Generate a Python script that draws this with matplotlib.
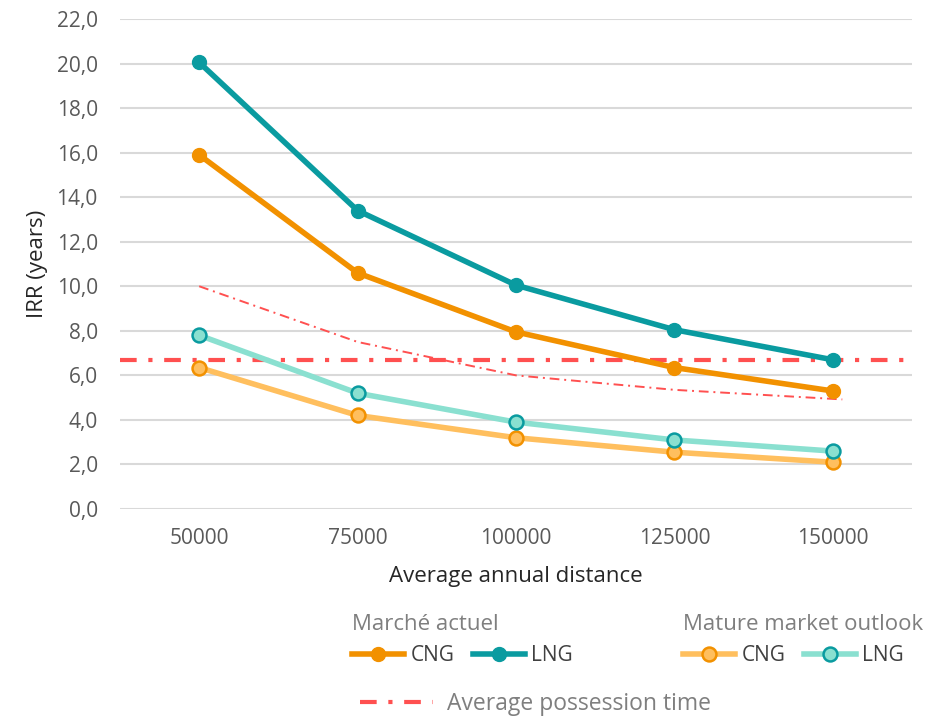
import matplotlib
matplotlib.use("Agg")
import matplotlib.pyplot as plt
from matplotlib.lines import Line2D
from matplotlib.ticker import FuncFormatter

plt.rcParams['font.family'] = ['Open Sans', 'DejaVu Sans']

# données
distances = ["50000", "75000", "100000", "125000", "150000"]
cng_actuel = [15.9, 10.6, 7.95, 6.35, 5.3]
lng_actuel = [20.05, 13.4, 10.05, 8.05, 6.7]
cng_mature = [6.35, 4.2, 3.2, 2.55, 2.1]
lng_mature = [7.8, 5.2, 3.9, 3.1, 2.6]
possession_moy = 6.7
possession_courbe_x = [0, 1, 2, 3, 4.06]
possession_courbe = [10.0, 7.5, 6.0, 5.35, 4.92]

# couleurs
ORANGE = "#F29100"
TEAL = "#0A9BA0"
L_ORANGE = "#FFBF5E"
L_TEAL = "#8AE0D0"
RED = "#FF5050"
GRID = "#D9D9D9"
TXT = "#595959"

fig = plt.figure(figsize=(9.39, 7.17), dpi=100)
ax = fig.add_axes([120/939, 1 - 509/717, 792/939, 490/717])

x = list(range(len(distances)))

ax.axhline(possession_moy, color=RED, lw=3, dashes=(4, 2.8, 1, 2.8),
           dash_capstyle='butt', zorder=2)
ax.plot(possession_courbe_x, possession_courbe, color=RED, lw=1.4,
        dashes=(5, 2.5, 1, 2.5), zorder=2)

l_cng, = ax.plot(x, cng_actuel, color=ORANGE, lw=4, marker='o', ms=10, zorder=3)
l_lng, = ax.plot(x, lng_actuel, color=TEAL, lw=4, marker='o', ms=10, zorder=3)
m_cng, = ax.plot(x, cng_mature, color=L_ORANGE, lw=4, marker='o', ms=10,
                 mfc=L_ORANGE, mec=ORANGE, mew=1.8, zorder=3)
m_lng, = ax.plot(x, lng_mature, color=L_TEAL, lw=4, marker='o', ms=10,
                 mfc=L_TEAL, mec=TEAL, mew=1.8, zorder=3)

ax.set_xlim(-0.5, 4.5)
ax.set_ylim(0, 22)
ax.set_yticks(range(0, 23, 2))
ax.yaxis.set_major_formatter(FuncFormatter(lambda v, p: f"{v:.1f}".replace(".", ",")))
ax.set_xticks(x)
ax.set_xticklabels(distances)
ax.grid(axis='y', color=GRID, lw=1.5)
ax.set_axisbelow(True)
for s in ax.spines.values():
    s.set_visible(False)
ax.tick_params(length=0, labelsize=15, colors=TXT, pad=16)
ax.tick_params(axis='x', pad=14)
ax.set_xlabel("Average annual distance", fontsize=16, color="#262626", labelpad=12)
ax.set_ylabel("IRR (years)", fontsize=16, color="#262626", labelpad=6)

# légendes
leg_kw = dict(frameon=False, loc='upper left', ncol=2, fontsize=15,
              handlelength=2.5, handletextpad=0.3, columnspacing=0.9,
              borderpad=0, borderaxespad=0, alignment='left',
              title_fontsize=16, labelcolor="#404040")
leg1 = fig.legend([l_cng, l_lng], ["CNG", "LNG"], title="Marché actuel",
                  bbox_to_anchor=(352/939, 1 - 614/717), **leg_kw)
leg2 = fig.legend([m_cng, m_lng], ["CNG", "LNG"], title="Mature market outlook",
                  bbox_to_anchor=(683/939, 1 - 614/717), **leg_kw)
for lg in (leg1, leg2):
    lg.get_title().set_color("#7F7F7F")
h_avg = Line2D([], [], color=RED, lw=3, dashes=(4, 2.8, 1, 2.8), dash_capstyle='butt')
leg3 = fig.legend([h_avg], ["Average possession time"], frameon=False,
                  loc='upper left', fontsize=16.5, handlelength=3.2,
                  handletextpad=0.6, borderpad=0, borderaxespad=0,
                  labelcolor="#7F7F7F",
                  bbox_to_anchor=(360/939, 1 - 692/717))

fig.savefig("out.png", dpi=100)
